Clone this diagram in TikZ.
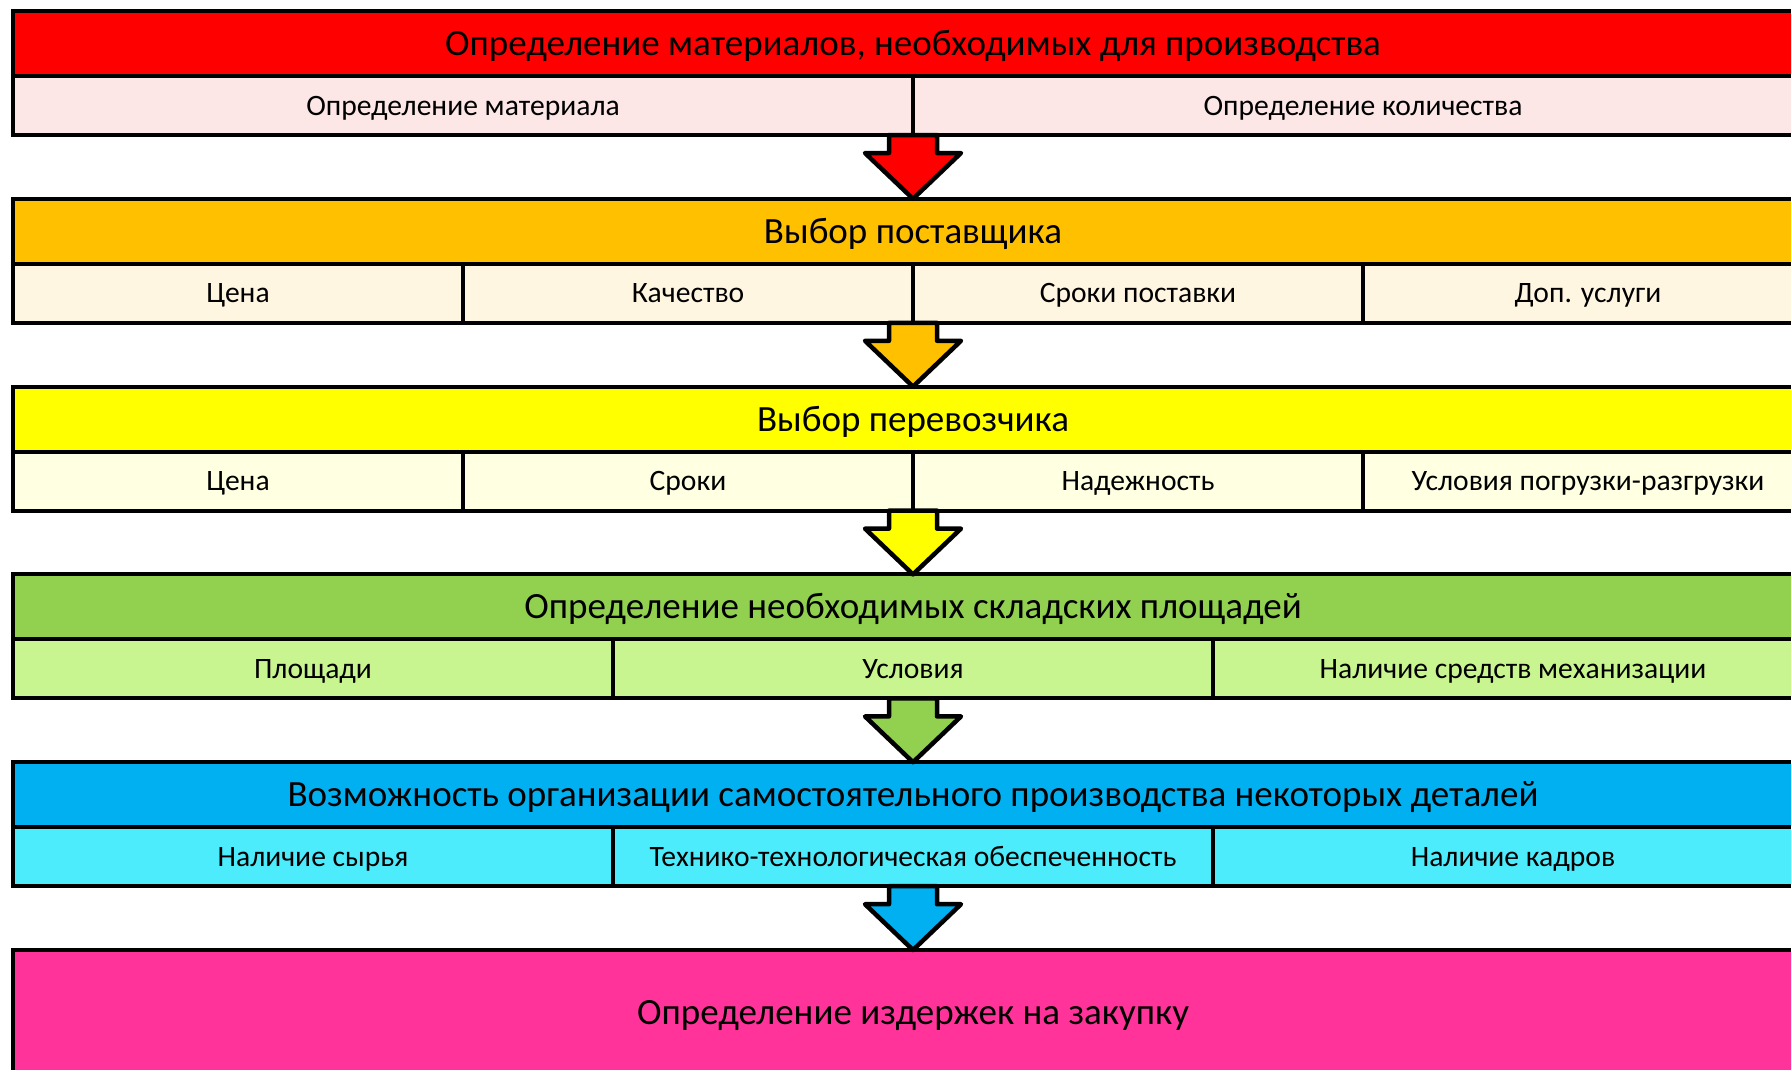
\documentclass[tikz,border=0pt]{standalone}
\usepackage{fontspec}
\setmainfont{Carlito}
\usetikzlibrary{calc}

\definecolor{cRed}{HTML}{FF0000}
\definecolor{cRedL}{HTML}{FCE6E6}
\definecolor{cOrange}{HTML}{FFC000}
\definecolor{cOrangeL}{HTML}{FFF6E2}
\definecolor{cYellow}{HTML}{FFFF00}
\definecolor{cYellowL}{HTML}{FFFFE2}
\definecolor{cGreen}{HTML}{92D050}
\definecolor{cGreenL}{HTML}{C8F590}
\definecolor{cBlue}{HTML}{00B0F0}
\definecolor{cBlueL}{HTML}{4DECFC}
\definecolor{cPink}{HTML}{FF3399}

\tikzset{
  hdr/.style={draw=black, line width=4pt, rectangle, inner sep=0pt, outer sep=0pt,
    minimum width=1800pt, minimum height=65pt, anchor=north west,
    font=\fontsize{37}{42}\selectfont, text height=25.5pt, text depth=1.5pt},
  cell/.style={draw=black, line width=4pt, rectangle, inner sep=0pt, outer sep=0pt,
    minimum height=59pt, anchor=north west,
    font=\fontsize{29.6}{34}\selectfont, text height=20.5pt, text depth=1.2pt},
  arr/.style={draw=black, line width=4.5pt, line join=round},
}

\begin{document}
\begin{tikzpicture}[x=1pt, y=-1pt]
\useasboundingbox (0,0) rectangle (1791,1069);
\clip (0,0) rectangle (1791,1069);

% Stage 1
\node[hdr, fill=cRed] (h1) at (13,11) {Определение материалов, необходимых для производства};
\node[cell, fill=cRedL, minimum width=900pt] (s1a) at (h1.south west) {Определение материала};
\node[cell, fill=cRedL, minimum width=900pt] (s1b) at (s1a.north east) {Определение количества};
\coordinate (b1) at ($(h1.south)+(0,59)$);

% Stage 2
\node[hdr, fill=cOrange] (h2) at (13,198.8) {Выбор поставщика};
\node[cell, fill=cOrangeL, minimum width=450pt] (s2a) at (h2.south west) {Цена};
\node[cell, fill=cOrangeL, minimum width=450pt] (s2b) at (s2a.north east) {Качество};
\node[cell, fill=cOrangeL, minimum width=450pt] (s2c) at (s2b.north east) {Сроки поставки};
\node[cell, fill=cOrangeL, minimum width=450pt] (s2d) at (s2c.north east) {Доп. услуги};
\coordinate (b2) at ($(h2.south)+(0,59)$);

% Stage 3
\node[hdr, fill=cYellow] (h3) at (13,386.6) {Выбор перевозчика};
\node[cell, fill=cYellowL, minimum width=450pt] (s3a) at (h3.south west) {Цена};
\node[cell, fill=cYellowL, minimum width=450pt] (s3b) at (s3a.north east) {Сроки};
\node[cell, fill=cYellowL, minimum width=450pt] (s3c) at (s3b.north east) {Надежность};
\node[cell, fill=cYellowL, minimum width=450pt] (s3d) at (s3c.north east) {Условия погрузки-разгрузки};
\coordinate (b3) at ($(h3.south)+(0,59)$);

% Stage 4
\node[hdr, fill=cGreen] (h4) at (13,574.4) {Определение необходимых складских площадей};
\node[cell, fill=cGreenL, minimum width=600pt] (s4a) at (h4.south west) {Площади};
\node[cell, fill=cGreenL, minimum width=600pt] (s4b) at (s4a.north east) {Условия};
\node[cell, fill=cGreenL, minimum width=600pt] (s4c) at (s4b.north east) {Наличие средств механизации};
\coordinate (b4) at ($(h4.south)+(0,59)$);

% Stage 5
\node[hdr, fill=cBlue] (h5) at (13,762.2) {Возможность организации самостоятельного производства некоторых деталей};
\node[cell, fill=cBlueL, minimum width=600pt] (s5a) at (h5.south west) {Наличие сырья};
\node[cell, fill=cBlueL, minimum width=600pt] (s5b) at (s5a.north east) {Технико-технологическая обеспеченность};
\node[cell, fill=cBlueL, minimum width=600pt] (s5c) at (s5b.north east) {Наличие кадров};
\coordinate (b5) at ($(h5.south)+(0,59)$);

% Final stage
\node[hdr, fill=cPink, minimum height=124pt] (h6) at (13,950) {Определение издержек на закупку};

% Block arrows between stages
\foreach \from/\to/\col in {b1/h2/cRed, b2/h3/cOrange, b3/h4/cYellow, b4/h5/cGreen, b5/h6/cBlue}{
  \draw[arr, fill=\col] ($(\from)+(-24,0)$) -- ++(0,18) -- ++(-24,0)
    -- (\to.north) -- ($(\from)+(48,18)$) -- ++(-24,0) -- ++(0,-18) -- cycle;
}
\end{tikzpicture}
\end{document}
